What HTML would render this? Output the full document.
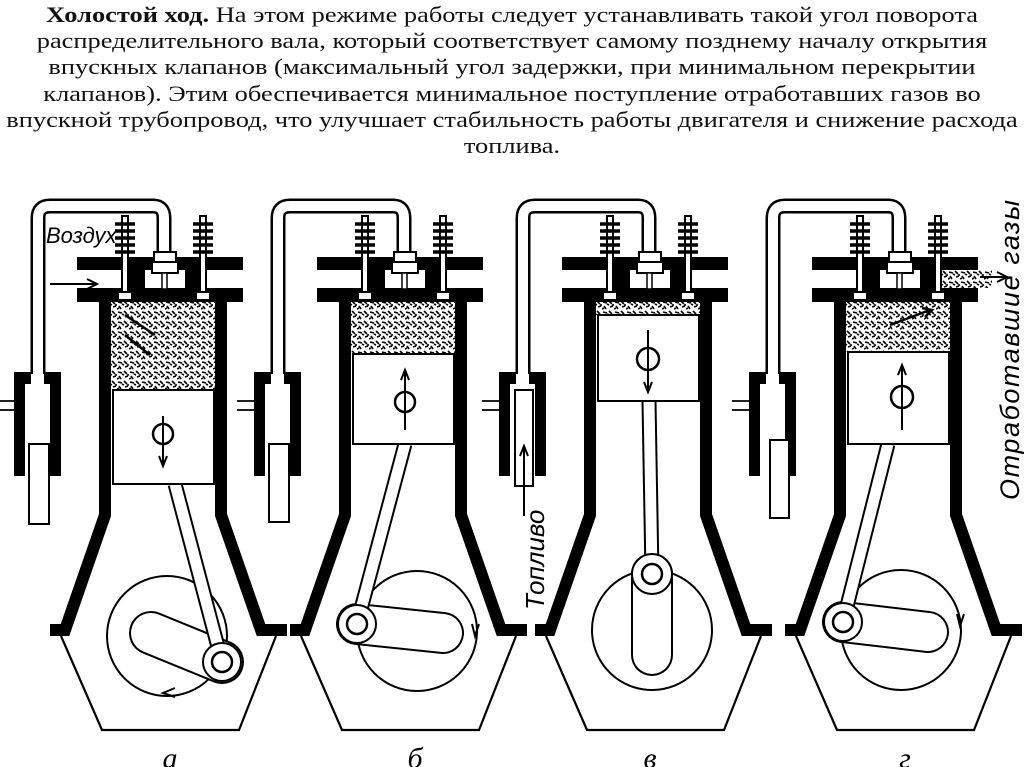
<!DOCTYPE html>
<html><head><meta charset="utf-8"><style>
html,body{margin:0;padding:0;background:#fff;width:1024px;height:767px;overflow:hidden}
.t{position:absolute;left:0;top:2px;width:1024px;text-align:center;font-family:"Liberation Serif",serif;font-size:22px;line-height:26.2px;color:#111}
.t div{transform:scaleX(1.2);white-space:nowrap}
svg{position:absolute;left:0;top:0}
</style></head><body>
<div class="t"><div><b>Холостой ход.</b> На этом режиме работы следует устанавливать такой угол поворота</div><div>распределительного вала, который соответствует самому позднему началу открытия</div><div>впускных клапанов (максимальный угол задержки, при минимальном перекрытии</div><div>клапанов). Этим обеспечивается минимальное поступление отработавших газов во</div><div>впускной трубопровод, что улучшает стабильность работы двигателя и снижение расхода</div><div>топлива.</div></div>
<svg width="1024" height="767" viewBox="0 0 1024 767">
<defs>
<pattern id="sp" width="12" height="10" patternUnits="userSpaceOnUse">
<rect width="12" height="10" fill="#fff"/>
<path d="M1 2 l4 1 M7 1 l3 3 M2 6 l2 3 M8 7 l3 -1 M5 4 l2 1 M11 4 l0 2 M0 9 l2 -1" stroke="#000" stroke-width="1.6" fill="none"/>
</pattern>
<g id="body" fill="none" stroke="#000">
 <path d="M-127 374 V218 Q-127 206 -115 206 H-12 Q-1 206 -1 218 V252" stroke-width="15" stroke-linejoin="round"/>
 <path d="M-127 376 V218 Q-127 206 -115 206 H-12 Q-1 206 -1 218 V254" stroke="#fff" stroke-width="10" stroke-linejoin="round"/>
 <rect x="-88" y="257" width="166" height="13" fill="#000" stroke="none"/>
 <rect x="-88" y="288" width="166" height="14" fill="#000" stroke="none"/>
 <path d="M-36 288 V268 Q-36 258 -28 258 Q-20 258 -20 268 V288 Z M20 288 V268 Q20 258 28 258 Q35 258 35 268 V288Z" fill="#000" stroke="none"/>
 <g stroke-width="2">
  <rect x="-43" y="216" width="6" height="78" fill="#fff"/>
  <rect x="35" y="216" width="6" height="78" fill="#fff"/>
  <path d="M-50 224 h20 M-50 231 h20 M-50 238 h20 M-50 245 h20 M-50 252 h20 M28 224 h20 M28 231 h20 M28 238 h20 M28 245 h20 M28 252 h20" stroke-width="3.5"/>
  <rect x="-47" y="292" width="14" height="8" fill="#fff"/>
  <rect x="31" y="292" width="14" height="8" fill="#fff"/>
 </g>
 <rect x="-11" y="252" width="22" height="10" fill="#fff" stroke-width="2"/>
 <rect x="-13" y="262" width="26" height="11" fill="#fff" stroke-width="2"/>
 <rect x="-3" y="273" width="5" height="16" fill="#fff" stroke-width="1.5"/>
 <polyline points="-60,302 -60,515 -100,630 -115,630" stroke-width="12" stroke-linejoin="miter"/>
 <polyline points="56,302 56,515 96,630 122,630" stroke-width="12" stroke-linejoin="miter"/>
 <polyline points="-104,636 -63,730 74,730 111,636" stroke-width="2.2"/>
 <g fill="#000" stroke="none">
  <rect x="-151" y="372" width="11" height="104"/>
  <rect x="-115" y="372" width="11" height="104"/>
  <rect x="-151" y="372" width="17" height="12"/>
  <rect x="-121" y="372" width="17" height="12"/>
 </g>
 <path d="M-168 401 H-151 M-168 410 H-151" stroke-width="1.8"/>
</g>
</defs>

<g transform="translate(165,0)">
 <use href="#body"/>
 <rect x="-54" y="302" width="104" height="88" fill="url(#sp)"/>
 <rect x="-136" y="444" width="20" height="80" fill="#fff" stroke="#000" stroke-width="2"/>
 <circle cx="2" cy="636" r="60" fill="none" stroke="#000" stroke-width="2"/>
 <path d="M-14 633 L57 662" stroke="#000" stroke-width="44" stroke-linecap="round"/>
 <path d="M-14 633 L57 662" stroke="#fff" stroke-width="40" stroke-linecap="round"/>
 <path d="M10 484 L57 662" stroke="#000" stroke-width="15"/>
 <path d="M10 484 L57 662" stroke="#fff" stroke-width="11"/>
 <circle cx="57" cy="662" r="19" fill="#fff" stroke="#000" stroke-width="2"/>
 <circle cx="57" cy="662" r="10" fill="none" stroke="#000" stroke-width="2.5"/>
 <rect x="-52" y="390" width="101" height="94" fill="#fff" stroke="#000" stroke-width="2"/>
 <circle cx="-2" cy="434" r="10" fill="none" stroke="#000" stroke-width="2.5"/>
 <path d="M-2 416 V466 M-6 456 L-2 466 L2 456" stroke="#000" stroke-width="2" fill="none"/>
 <path d="M-40 315 L-10 335 M-40 335 L-15 355" stroke="#000" stroke-width="2.5"/>
 <path d="M-115 284 H-70 M-78 279 L-68 284 L-78 289" stroke="#000" stroke-width="2" fill="none"/>
 <path d="M10 697 l-12 -4 l12 -5" stroke="#000" stroke-width="2" fill="none"/>
</g>
<text x="46" y="243" font-family="Liberation Sans,sans-serif" font-style="italic" font-size="22">Воздух</text>

<g transform="translate(405,0)">
 <use href="#body"/>
 <rect x="-54" y="302" width="104" height="52" fill="url(#sp)"/>
 <rect x="-136" y="444" width="20" height="78" fill="#fff" stroke="#000" stroke-width="2"/>
 <circle cx="12" cy="631" r="60" fill="none" stroke="#000" stroke-width="2"/>
 <path d="M-48 624 L38 633" stroke="#000" stroke-width="42" stroke-linecap="round"/>
 <path d="M-48 624 L38 633" stroke="#fff" stroke-width="38" stroke-linecap="round"/>
 <path d="M0 444 L-48 624" stroke="#000" stroke-width="15"/>
 <path d="M0 444 L-48 624" stroke="#fff" stroke-width="11"/>
 <circle cx="-48" cy="624" r="19" fill="#fff" stroke="#000" stroke-width="2"/>
 <circle cx="-48" cy="624" r="10" fill="none" stroke="#000" stroke-width="2.5"/>
 <rect x="-52" y="354" width="101" height="90" fill="#fff" stroke="#000" stroke-width="2"/>
 <circle cx="0" cy="402" r="10" fill="none" stroke="#000" stroke-width="2.5"/>
 <path d="M0 430 V370 M-4 380 L0 370 L4 380" stroke="#000" stroke-width="2" fill="none"/>
 <path d="M67 624 l3 12 l4 -12" stroke="#000" stroke-width="2" fill="none"/>
</g>

<g transform="translate(650,0)">
 <use href="#body"/>
 <rect x="-54" y="302" width="104" height="13" fill="url(#sp)"/>
 <rect x="-135" y="390" width="18" height="96" fill="#fff" stroke="#000" stroke-width="2"/>
 <path d="M-126 516 V446 M-130 456 L-126 446 L-122 456" stroke="#000" stroke-width="2" fill="none"/>
 <circle cx="2" cy="630" r="60" fill="none" stroke="#000" stroke-width="2"/>
 <path d="M2 574 L2 655" stroke="#000" stroke-width="42" stroke-linecap="round"/>
 <path d="M2 574 L2 655" stroke="#fff" stroke-width="38" stroke-linecap="round"/>
 <path d="M-1 401 L2 574" stroke="#000" stroke-width="15"/>
 <path d="M-1 401 L2 574" stroke="#fff" stroke-width="11"/>
 <circle cx="2" cy="574" r="20" fill="#fff" stroke="#000" stroke-width="2"/>
 <circle cx="2" cy="574" r="10" fill="none" stroke="#000" stroke-width="2.5"/>
 <rect x="-52" y="315" width="101" height="86" fill="#fff" stroke="#000" stroke-width="2"/>
 <circle cx="-2" cy="359" r="11" fill="none" stroke="#000" stroke-width="2.5"/>
 <path d="M-2 330 V392 M-6 382 L-2 392 L2 382" stroke="#000" stroke-width="2" fill="none"/>
</g>
<text transform="translate(544,610) rotate(-90)" font-family="Liberation Sans,sans-serif" font-style="italic" font-size="26">Топливо</text>

<g transform="translate(900,0)">
 <use href="#body"/>
 <rect x="-54" y="302" width="104" height="50" fill="url(#sp)"/>
 <rect x="42" y="270" width="50" height="18" fill="url(#sp)"/>
 <path d="M80 277 H106 M97 272 L107 277 L97 282" stroke="#000" stroke-width="2" fill="none"/>
 <rect x="-130" y="440" width="19" height="78" fill="#fff" stroke="#000" stroke-width="2"/>
 <circle cx="1" cy="630" r="60" fill="none" stroke="#000" stroke-width="2"/>
 <path d="M-57 622 L28 632" stroke="#000" stroke-width="42" stroke-linecap="round"/>
 <path d="M-57 622 L28 632" stroke="#fff" stroke-width="38" stroke-linecap="round"/>
 <path d="M-12 444 L-57 622" stroke="#000" stroke-width="15"/>
 <path d="M-12 444 L-57 622" stroke="#fff" stroke-width="11"/>
 <circle cx="-57" cy="622" r="19" fill="#fff" stroke="#000" stroke-width="2"/>
 <circle cx="-57" cy="622" r="10" fill="none" stroke="#000" stroke-width="2.5"/>
 <rect x="-52" y="352" width="101" height="92" fill="#fff" stroke="#000" stroke-width="2"/>
 <circle cx="2" cy="397" r="11" fill="none" stroke="#000" stroke-width="2.5"/>
 <path d="M2 430 V365 M-2 375 L2 365 L6 375" stroke="#000" stroke-width="2" fill="none"/>
 <path d="M-10 325 L30 310 M22 308 L32 310 L25 317" stroke="#000" stroke-width="2.5" fill="none"/>
 <path d="M57 614 l3 12 l4 -12" stroke="#000" stroke-width="2" fill="none"/>
</g>
<text transform="translate(1019,500) rotate(-90)" font-family="Liberation Sans,sans-serif" font-style="italic" font-size="27" textLength="300" lengthAdjust="spacing">Отработавшие газы</text>

<g font-family="Liberation Serif,serif" font-style="italic" font-size="30" text-anchor="middle">
<text x="170" y="768">а</text>
<text x="415" y="768">б</text>
<text x="650" y="768">в</text>
<text x="905" y="768">г</text>
</g>
</svg>
</body></html>
